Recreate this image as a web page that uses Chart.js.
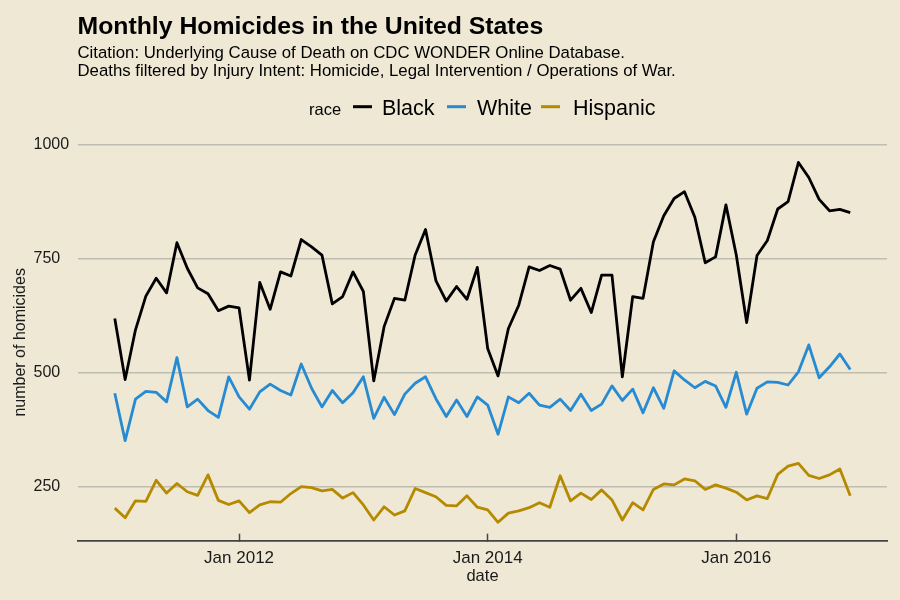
<!DOCTYPE html>
<html>
<head>
<meta charset="utf-8">
<title>Monthly Homicides in the United States</title>
<script src="https://cdn.jsdelivr.net/npm/chart.js@4/dist/chart.umd.min.js"></script>
<style>
  html, body { margin: 0; padding: 0; background: #eee8d5; }
  canvas { display: block; }
</style>
</head>
<body>
<canvas id="homicideChart" width="900" height="600"></canvas>
<script>
'use strict';

// ── Data (monthly counts, Jan 2011 .. Dec 2016) ───────────────────────────────
const firstYear  = 2011;
const monthCount = 72;

const black = [
  619, 485, 594, 668, 707, 675, 785, 729, 686, 673, 636, 646,
  642, 484, 698, 639, 721, 712, 792, 776, 758, 651, 667, 721,
  678, 482, 601, 663, 659, 758, 814, 702, 657, 689, 661, 731,
  553, 493, 597, 648, 732, 724, 735, 727, 659, 685, 632, 714,
  714, 491, 667, 663, 787, 844, 882, 897, 841, 741, 754, 868,
  758, 610, 757, 790, 859, 875, 961, 928, 880, 855, 858, 851
];
const white = [
  455, 351, 442, 459, 457, 436, 533, 425, 442, 417, 402, 491,
  447, 420, 458, 475, 461, 451, 519, 466, 425, 461, 434, 456,
  491, 400, 446, 408, 453, 477, 491, 443, 404, 440, 404, 447,
  429, 365, 447, 434, 455, 429, 424, 442, 417, 453, 417, 431,
  471, 439, 464, 412, 467, 422, 504, 484, 467, 481, 471, 424,
  501, 409, 466, 480, 479, 473, 502, 561, 489, 513, 541, 507
];
const hispanic = [
  203, 182, 219, 218, 264, 236, 257, 239, 231, 276, 220, 211,
  219, 193, 210, 217, 216, 235, 250, 248, 241, 244, 225, 237,
  210, 177, 206, 188, 197, 246, 237, 228, 209, 208, 230, 205,
  199, 172, 192, 197, 204, 215, 205, 274, 219, 236, 222, 243,
  221, 177, 215, 199, 244, 256, 254, 267, 263, 244, 254, 247,
  238, 221, 230, 224, 277, 295, 301, 275, 268, 276, 289, 230
];

const seriesNames  = ['Black', 'White', 'Hispanic'];
const seriesColors = ['#000000', '#268bd2', '#b58900'];

// x ticks are month indices counted from Jan 2011
const xTickValues = [12, 36, 60];
const xTickLabels = ['Jan 2012', 'Jan 2014', 'Jan 2016'];
const yTickValues = [250, 500, 750, 1000];

const FONT = "'Liberation Sans', Arial, Helvetica, sans-serif";
const BG   = '#eee8d5';

// ── Helpers ───────────────────────────────────────────────────────────────────
const toPoints = arr => arr.map((v, i) => ({ x: i, y: v }));

// ── Plugins: background, titles, legend, axis title ───────────────────────────
const decorPlugin = {
  id: 'decor',
  beforeDraw(chart) {
    const ctx = chart.ctx;
    ctx.save();
    ctx.fillStyle = BG;
    ctx.fillRect(0, 0, chart.width, chart.height);
    ctx.restore();
  },
  afterDraw(chart) {
    const ctx = chart.ctx;
    const area = chart.chartArea;
    ctx.save();
    ctx.fillStyle = '#000';
    ctx.textAlign = 'left';
    ctx.textBaseline = 'alphabetic';

    // title + subtitle
    ctx.font = `bold 24.8px ${FONT}`;
    ctx.fillText('Monthly Homicides in the United States', 77.5, 34.3);
    ctx.font = `16.8px ${FONT}`;
    ctx.fillText('Citation: Underlying Cause of Death on CDC WONDER Online Database.', 77.5, 58.3);
    ctx.fillText('Deaths filtered by Injury Intent: Homicide, Legal Intervention / Operations of War.', 77.5, 76);

    // legend
    ctx.font = `16.5px ${FONT}`;
    ctx.fillText('race', 309, 114.5);
    const samples = [353, 447, 541];
    const labelsX = [382, 477, 573];
    ctx.font = `21.5px ${FONT}`;
    seriesNames.forEach((name, i) => {
      ctx.strokeStyle = seriesColors[i];
      ctx.lineWidth = 3;
      ctx.beginPath();
      ctx.moveTo(samples[i], 106.7);
      ctx.lineTo(samples[i] + 19, 106.7);
      ctx.stroke();
      ctx.fillStyle = '#000';
      ctx.fillText(name, labelsX[i], 115);
    });

    // y axis title
    ctx.font = `16px ${FONT}`;
    ctx.fillStyle = '#1a1a1a';
    ctx.translate(21, (area.top + area.bottom) / 2);
    ctx.rotate(-Math.PI / 2);
    ctx.textAlign = 'center';
    ctx.textBaseline = 'middle';
    ctx.fillText('number of homicides', 0, 0);
    ctx.restore();
  }
};

// ── Chart ─────────────────────────────────────────────────────────────────────
const ctx = document.getElementById('homicideChart').getContext('2d');

new Chart(ctx, {
  type: 'line',
  data: {
    datasets: [black, white, hispanic].map((arr, i) => ({
      label: seriesNames[i],
      data: toPoints(arr),
      borderColor: seriesColors[i],
      backgroundColor: seriesColors[i],
      borderWidth: 2.8,
      borderJoinStyle: 'round',
      pointRadius: 0,
      tension: 0,
      fill: false
    }))
  },
  options: {
    responsive: false,
    animation: false,
    devicePixelRatio: 1,
    layout: { padding: { top: 144, right: 13, bottom: 0, left: 33.5 } },
    plugins: {
      legend: { display: false },
      tooltip: { enabled: false },
      title: { display: false }
    },
    scales: {
      x: {
        type: 'linear',
        min: -3.55,
        max: monthCount - 1 + 3.55,
        afterBuildTicks: scale => {
          scale.ticks = xTickValues.map(v => ({ value: v }));
        },
        afterFit: scale => { scale.height = 59.3; },
        grid: {
          drawOnChartArea: false,
          drawTicks: true,
          tickLength: -7,
          tickColor: '#444444',
          tickWidth: 1.5
        },
        border: { display: true, color: '#444444', width: 1.7 },
        ticks: {
          padding: 14,
          color: '#1a1a1a',
          font: { family: FONT, size: 17 },
          maxRotation: 0,
          autoSkip: false,
          callback: value => xTickLabels[xTickValues.indexOf(value)] || ''
        },
        title: {
          display: true,
          text: 'date',
          color: '#1a1a1a',
          font: { family: FONT, size: 16.5 },
          padding: { top: 0, bottom: 14 }
        }
      },
      y: {
        min: 131.6,
        max: 1001.5,
        afterBuildTicks: scale => {
          scale.ticks = yTickValues.map(v => ({ value: v }));
        },
        afterFit: scale => { scale.width = 44.5; },
        grid: {
          color: '#bfbcb2',
          lineWidth: 1.5,
          drawTicks: false,
          tickLength: 0
        },
        border: { display: false },
        ticks: {
          crossAlign: 'far',
          padding: 0,
          color: '#1a1a1a',
          font: { family: FONT, size: 16 },
          callback: value => String(value)
        }
      }
    }
  },
  plugins: [decorPlugin]
});
</script>
</body>
</html>
